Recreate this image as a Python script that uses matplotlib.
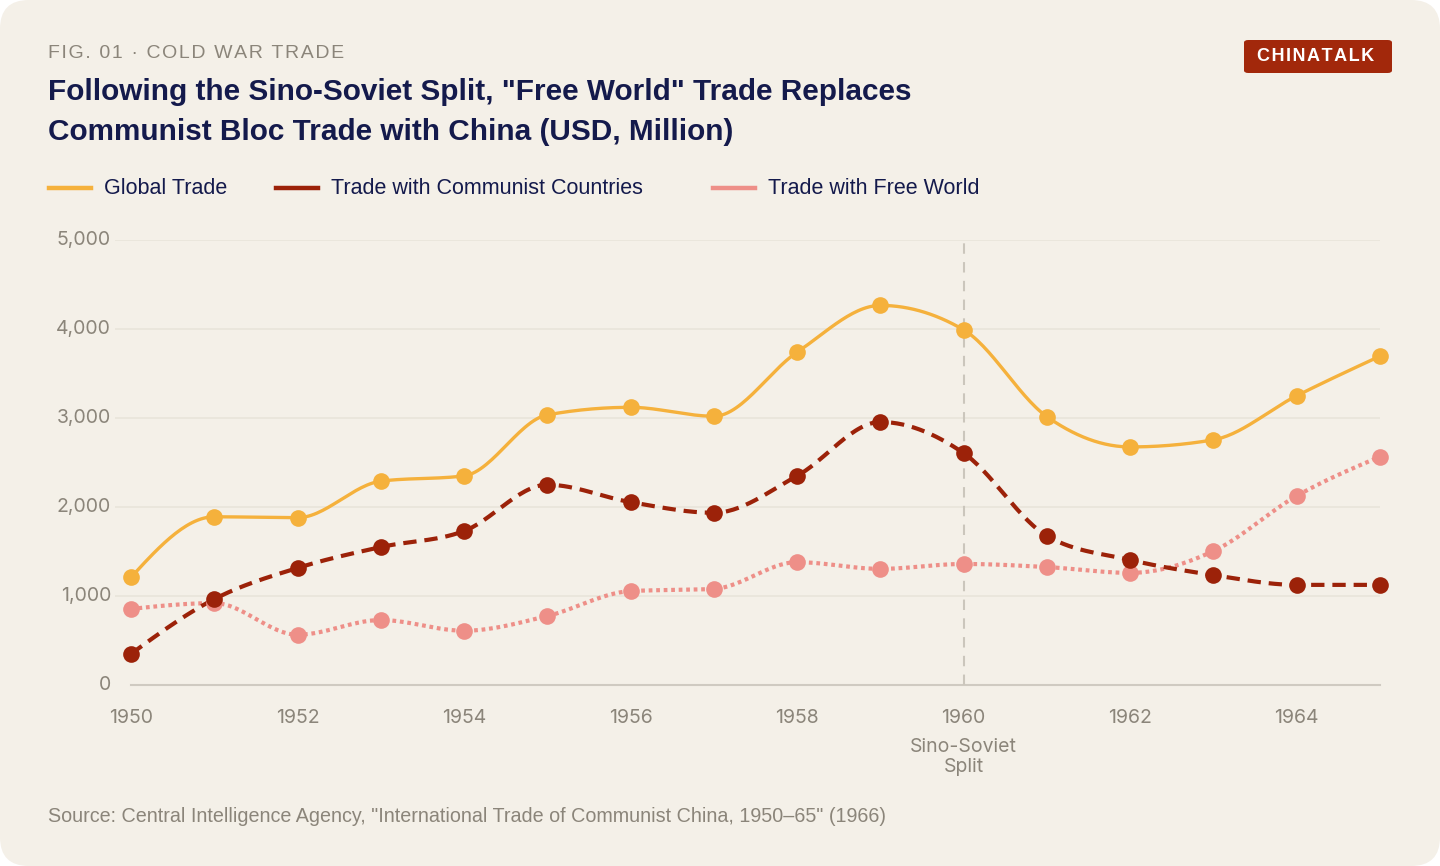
import numpy as np
import matplotlib.pyplot as plt
from matplotlib.patches import FancyBboxPatch
from matplotlib.lines import Line2D

years = list(range(1950, 1966))
global_trade = [1210, 1890, 1880, 2290, 2350, 3035, 3120, 3020, 3740, 4265, 3990, 3015, 2675, 2755, 3250, 3695]
communist_trade = [350, 965, 1315, 1550, 1730, 2250, 2055, 1935, 2350, 2955, 2605, 1675, 1405, 1235, 1125, 1125]
free_world_trade = [855, 920, 565, 730, 610, 775, 1055, 1080, 1380, 1305, 1360, 1325, 1260, 1505, 2125, 2565]
x_ticks = [1950, 1952, 1954, 1956, 1958, 1960, 1962, 1964]
y_ticks = [0, 1000, 2000, 3000, 4000, 5000]

BG = "#f4f0e8"
NAVY = "#141a4c"
GREY = "#8b857a"
C_GLOBAL = "#f5b13c"
C_COMM = "#9c2209"
C_FREE = "#ee8f88"


def monotone(x, y, n=30):
    # monotone cubic (like d3 curveMonotoneX)
    x = np.asarray(x, float)
    y = np.asarray(y, float)
    h = np.diff(x)
    s = np.diff(y) / h
    m = np.zeros_like(y)
    for i in range(1, len(y) - 1):
        p = (s[i - 1] * h[i] + s[i] * h[i - 1]) / (h[i - 1] + h[i])
        m[i] = (np.sign(s[i - 1]) + np.sign(s[i])) * min(abs(s[i - 1]), abs(s[i]), 0.5 * abs(p))
    m[0] = (3 * s[0] - m[1]) / 2
    m[-1] = (3 * s[-1] - m[-2]) / 2
    xs, ys = [], []
    for i in range(len(x) - 1):
        t = np.linspace(0, 1, n, endpoint=False)
        h00 = 2 * t**3 - 3 * t**2 + 1
        h10 = t**3 - 2 * t**2 + t
        h01 = -2 * t**3 + 3 * t**2
        h11 = t**3 - t**2
        xs.append(x[i] + t * h[i])
        ys.append(h00 * y[i] + h10 * h[i] * m[i] + h01 * y[i + 1] + h11 * h[i] * m[i + 1])
    xs.append([x[-1]])
    ys.append([y[-1]])
    return np.concatenate(xs), np.concatenate(ys)


def spaced(s):
    return "\u200a".join(s)


W, H = 1440, 866
fig = plt.figure(figsize=(W / 100, H / 100), dpi=100)
fig.patch.set_facecolor("white")
card = FancyBboxPatch((0, 0), 1, 1, boxstyle="round,pad=0,rounding_size=0.02",
                      transform=fig.transFigure, facecolor=BG, edgecolor="none",
                      mutation_aspect=W / H, zorder=-10)
fig.patches.append(card)


def fx(px):
    return px / W


def fy(py):
    return 1 - py / H


ax = fig.add_axes([fx(115), fy(685), fx(1380) - fx(115), fy(240) - fy(685)])
ax.set_facecolor("none")
ax.set_xlim(1950 - 16 / 83.27, 1965)
ax.set_ylim(0, 5000)
for sp in ax.spines.values():
    sp.set_visible(False)
ax.tick_params(length=0)
ax.set_xticks([])
ax.set_yticks([])

for v in y_ticks[1:]:
    ax.axhline(v, color="#e9e4da", lw=1.2, zorder=0)
ax.plot([1950, 1965], [0, 0], color="#cfcac1", lw=1.5, zorder=1, clip_on=False)
ax.plot([1960, 1960], [0, 5000], color="#cbc6bc", lw=1.5, ls=(0, (5, 4)), zorder=1)

sans = ["Inter", "DejaVu Sans"]
for v in y_ticks:
    ax.text(1950 - 20 / 83.27, v, f"{v:,}", ha="right", va="center", fontsize=14,
            color=GREY, family=sans)
for yr in x_ticks:
    ax.text(yr, -375, str(yr), ha="center", va="center", fontsize=14, color=GREY, family=sans)
ax.text(1960, -810, "Sino-Soviet\nSplit", ha="center", va="center", fontsize=14,
        color=GREY, family=sans, linespacing=1.2)

series = [
    (free_world_trade, C_FREE, (0, (0.9, 0.9)), 3.0),
    (communist_trade, C_COMM, (0, (3.2, 1.9)), 3.0),
    (global_trade, C_GLOBAL, "-", 2.4),
]
for vals, col, ls, lw in series:
    sx, sy = monotone(years, vals)
    ax.plot(sx, sy, color=col, lw=lw, ls=ls, zorder=2, clip_on=False)
    ax.plot(years, vals, "o", color=col, ms=12, mec="none", zorder=3, clip_on=False)

# header
head = ["Liberation Sans", "DejaVu Sans"]
fig.text(fx(48), fy(53), spaced("FIG. 01 · COLD WAR TRADE"), fontsize=14, color=GREY,
         family=head, va="center", ha="left")
fig.text(fx(48), fy(92), 'Following the Sino-Soviet Split, "Free World" Trade Replaces',
         fontsize=21.4, fontweight="bold", color=NAVY, family=head, va="center")
fig.text(fx(48), fy(132), "Communist Bloc Trade with China (USD, Million)",
         fontsize=21.4, fontweight="bold", color=NAVY, family=head, va="center")

# badge
badge = FancyBboxPatch((fx(1244), fy(73)), fx(148), fy(40) - fy(73),
                       boxstyle="round,pad=0,rounding_size=0.003",
                       transform=fig.transFigure, facecolor="#a2280b", edgecolor="none")
fig.patches.append(badge)
fig.text(fx(1316), fy(56.5), spaced("CHINATALK"),
         fontsize=13, fontweight="bold", color="white", family=head, ha="center", va="center")

# legend
legend_items = [("Global Trade", C_GLOBAL, 49), ("Trade with Communist Countries", C_COMM, 276),
                ("Trade with Free World", C_FREE, 713)]
for label, col, x0 in legend_items:
    fig.add_artist(Line2D([fx(x0), fx(x0 + 42)], [fy(188), fy(188)], color=col, lw=3.2,
                          transform=fig.transFigure))
    fig.text(fx(x0 + 55), fy(188), label, fontsize=15.5, color=NAVY, family=head, va="center")

fig.text(fx(48), fy(817), 'Source: Central Intelligence Agency, "International Trade of Communist China, 1950\u201365" (1966)',
         fontsize=14.2, color=GREY, family=head, va="center")

fig.savefig("out.png", dpi=100, facecolor=fig.get_facecolor())
